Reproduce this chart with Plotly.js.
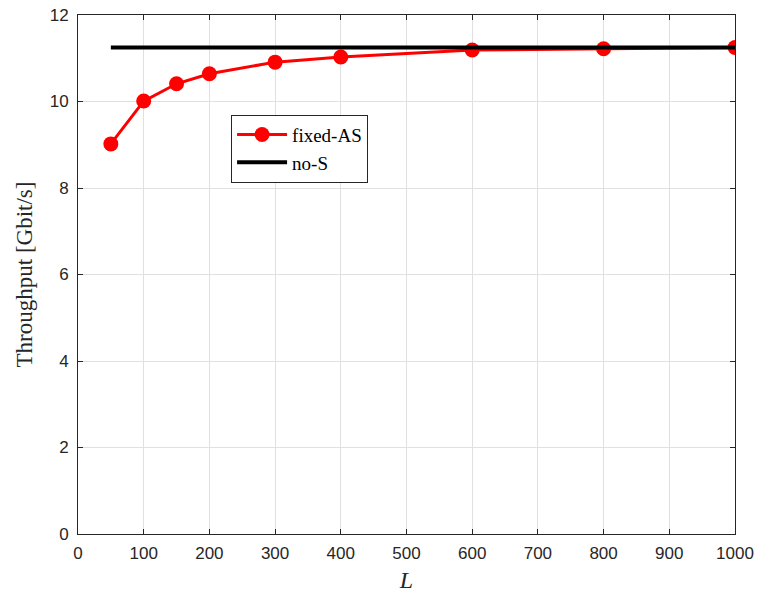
<!DOCTYPE html>
<html>
<head>
<meta charset="utf-8">
<script src="https://cdn.plot.ly/plotly-3.0.1.min.js"></script>
<style>html,body{margin:0;padding:0;background:#fff;}#plot{width:757px;height:594px;}</style>
</head>
<body>
<div id="plot"></div>
<script>
const L = [50, 100, 150, 200, 300, 400, 600, 800, 1000];
const fixedAS = [9.02, 10.01, 10.41, 10.64, 10.91, 11.03, 11.19, 11.22, 11.25];
const noS_L = [50, 1000];
const noS = [11.25, 11.25];
const xTicks = [0, 100, 200, 300, 400, 500, 600, 700, 800, 900, 1000];
const yTicks = [0, 2, 4, 6, 8, 10, 12];

const traces = [
  {x: L, y: fixedAS, name: 'fixed-AS', type: 'scatter', mode: 'lines+markers',
   line: {color: '#ff0000', width: 3}, marker: {color: '#ff0000', size: 15}},
  {x: noS_L, y: noS, name: 'no-S', type: 'scatter', mode: 'lines',
   line: {color: '#000000', width: 4}}
];
const axisCommon = {
  showline: true, linecolor: '#262626', linewidth: 1, mirror: 'ticks',
  ticks: 'inside', ticklen: 5, tickcolor: '#262626',
  showgrid: true, gridcolor: '#e0e0e0', gridwidth: 1, zeroline: false,
  tickfont: {family: 'Liberation Sans, Arial, sans-serif', size: 17, color: '#262626'}
};
const layout = {
  width: 757, height: 594,
  margin: {l: 78, r: 22, t: 15, b: 60},
  paper_bgcolor: '#fff', plot_bgcolor: '#fff',
  showlegend: true,
  legend: {x: 0.233, y: 0.808, xanchor: 'left', yanchor: 'top',
    bordercolor: '#262626', borderwidth: 1, bgcolor: '#fff',
    font: {family: 'Liberation Serif, Times New Roman, serif', size: 19, color: '#000'},
    tracegroupgap: 0, itemwidth: 50},
  xaxis: Object.assign({}, axisCommon, {range: [0, 1000], tickvals: xTicks, ticktext: xTicks.map(String),
    ticklabelstandoff: 4,
    title: {text: '<i>L</i>', font: {family: 'Liberation Serif, Times New Roman, serif', size: 24, color: '#262626'}, standoff: 8}}),
  yaxis: Object.assign({}, axisCommon, {range: [0, 12], tickvals: yTicks, ticktext: yTicks.map(String),
    ticklabelstandoff: 5,
    title: {text: 'Throughput [Gbit/s]', font: {family: 'Liberation Serif, Times New Roman, serif', size: 23, color: '#262626'}, standoff: 10}})
};
Plotly.newPlot('plot', traces, layout, {displayModeBar: false});
</script>
</body>
</html>
